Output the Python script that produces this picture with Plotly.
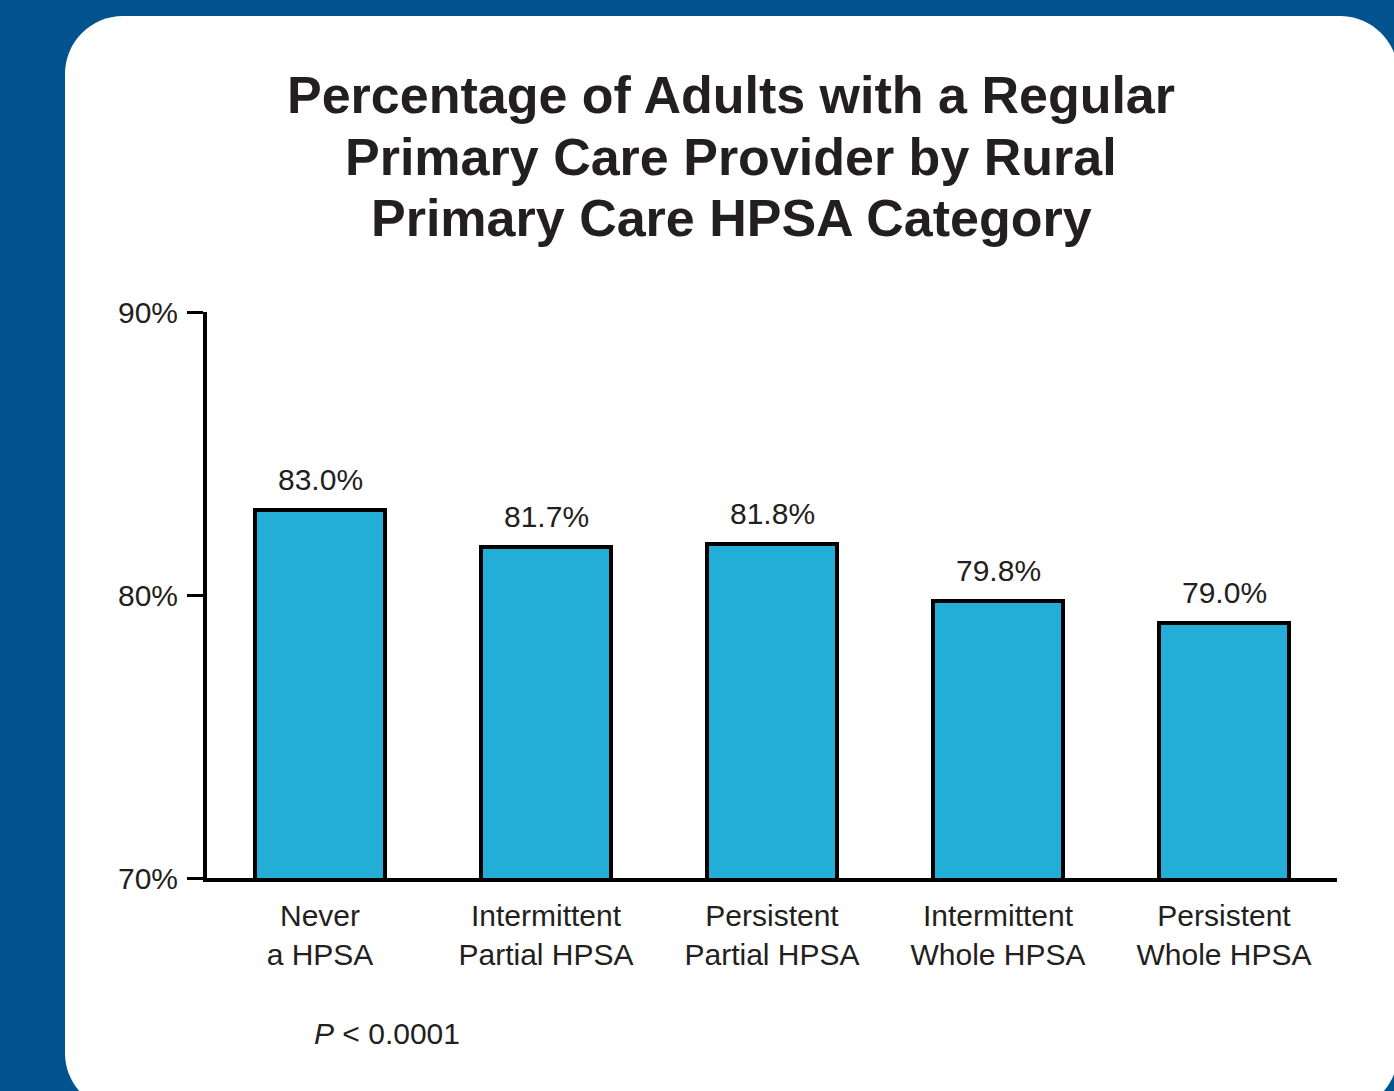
import plotly.graph_objects as go

categories = ["Never<br>a HPSA", "Intermittent<br>Partial HPSA", "Persistent<br>Partial HPSA",
              "Intermittent<br>Whole HPSA", "Persistent<br>Whole HPSA"]
values = [83.0, 81.7, 81.8, 79.8, 79.0]
value_labels = ["83.0%", "81.7%", "81.8%", "79.8%", "79.0%"]
y_ticks = [70, 80, 90]
y_tick_labels = ["70%", "80%", "90%"]
title_lines = ["Percentage of Adults with a Regular", "Primary Care Provider by Rural",
               "Primary Care HPSA Category"]

W, H = 1394, 1091
L, R, T, B = 207, 57, 312, 213
PW, PH = W - L - R, H - T - B
TXT = "#231f20"
FONT = "Liberation Sans, Arial, sans-serif"


def px(x):
    return (x - L) / PW


def py(y):
    return (H - B - y) / PH


def rounded_rect(x0, y0, x1, y1, r):
    k = 0.5523 * r
    pts = [
        ("M", [(x0 + r, y0)]),
        ("L", [(x1 - r, y0)]),
        ("C", [(x1 - r + k, y0), (x1, y0 + r - k), (x1, y0 + r)]),
        ("L", [(x1, y1 - r)]),
        ("C", [(x1, y1 - r + k), (x1 - r + k, y1), (x1 - r, y1)]),
        ("L", [(x0 + r, y1)]),
        ("C", [(x0 + r - k, y1), (x0, y1 - r + k), (x0, y1 - r)]),
        ("L", [(x0, y0 + r)]),
        ("C", [(x0, y0 + r - k), (x0 + r - k, y0), (x0 + r, y0)]),
    ]
    s = ""
    for cmd, ps in pts:
        s += cmd + " " + " ".join(f"{px(a):.5f},{py(b):.5f}" for a, b in ps) + " "
    return s + "Z"


fig = go.Figure()
fig.add_trace(go.Bar(
    x=categories, y=values, width=0.575,
    marker=dict(color="#23aed8", line=dict(color="black", width=4)),
    hoverinfo="skip",
))

for c, v, t in zip(categories, values, value_labels):
    fig.add_annotation(x=c, y=v, text=t, showarrow=False, yanchor="bottom",
                       yshift=12, font=dict(size=30, color=TXT, family=FONT))

fig.add_shape(type="path", xref="paper", yref="paper", layer="below",
              path=rounded_rect(65, 16, 1398, 1111, 58),
              fillcolor="white", line=dict(width=0))

for i, line in enumerate(title_lines):
    fig.add_annotation(xref="paper", yref="paper", x=px(731), y=py(95 + 61.5 * i),
                       text=line, showarrow=False, xanchor="center", yanchor="middle",
                       font=dict(size=52, color=TXT, family=FONT, weight="bold"))

fig.add_annotation(xref="paper", yref="paper", x=px(312), y=py(1033),
                   text="<i>P</i> < 0.0001", showarrow=False,
                   xanchor="left", yanchor="middle",
                   font=dict(size=30, color=TXT, family=FONT))

fig.update_layout(
    width=W, height=H,
    margin=dict(l=L, r=R, t=T, b=B, pad=0),
    paper_bgcolor="#00538f",
    plot_bgcolor="rgba(0,0,0,0)",
    showlegend=False,
    bargap=0,
    xaxis=dict(range=[-0.5, 4.5], showline=True, linecolor="black", linewidth=4,
               ticks="", showgrid=False, zeroline=False,
               tickfont=dict(size=30, color=TXT, family=FONT), ticklabelstandoff=8),
    yaxis=dict(range=[70, 90], tickvals=y_ticks, ticktext=y_tick_labels,
               showline=True, linecolor="black", linewidth=4,
               ticks="outside", ticklen=16, tickwidth=3, tickcolor="black",
               showgrid=False, zeroline=False, ticklabelstandoff=3,
               tickfont=dict(size=30, color=TXT, family=FONT)),
)

fig.write_html("out.html")
